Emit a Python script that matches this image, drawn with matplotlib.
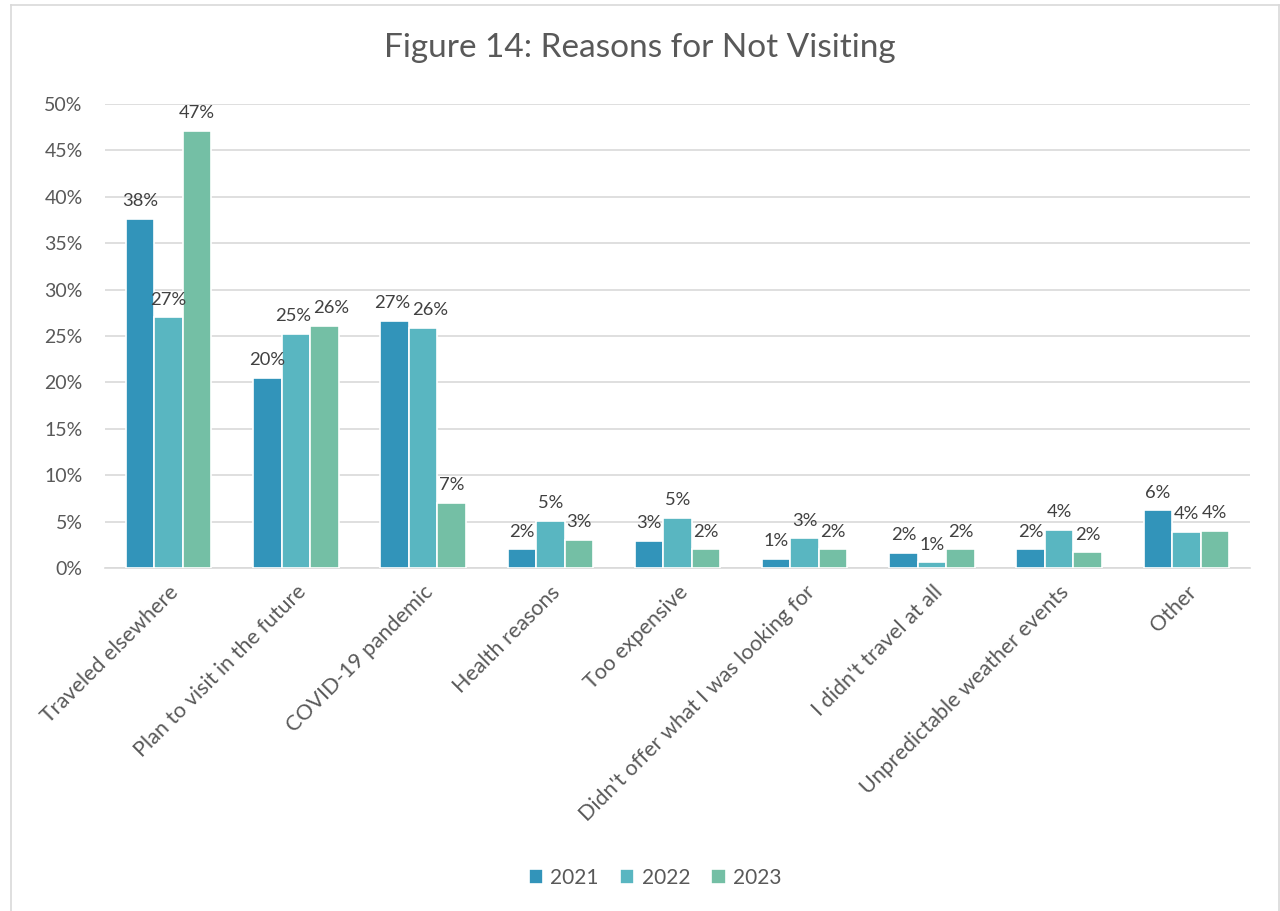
import numpy as np
import matplotlib.pyplot as plt
from matplotlib.lines import Line2D

plt.rcParams['font.family'] = ['Lato', 'DejaVu Sans']

categories = ["Traveled elsewhere", "Plan to visit in the future", "COVID-19 pandemic",
              "Health reasons", "Too expensive", "Didn't offer what I was looking for",
              "I didn't travel at all", "Unpredictable weather events", "Other"]
years = ["2021", "2022", "2023"]
v2021 = [37.6, 20.5, 26.6, 2.0, 2.9, 1.0, 1.6, 2.0, 6.2]
v2022 = [27.0, 25.2, 25.9, 5.1, 5.4, 3.2, 0.6, 4.1, 3.9]
v2023 = [47.1, 26.1, 7.0, 3.0, 2.0, 2.0, 2.0, 1.7, 4.0]
colors = ["#3294BA", "#59B6C1", "#74BFA5"]

# small sideways nudges (points) for labels that crowd each other
nudge = {(2, 0): -2, (2, 1): 5, (1, 1): -2, (1, 2): 5}

txt = "#595959"
fig = plt.figure(figsize=(12.8, 9.11), dpi=100)
ax = fig.add_axes([105/1280, 1 - 568/911, 1145/1280, 464/911])

x = np.arange(len(categories))
w = 0.224
for i, (vals, c, yr) in enumerate(zip([v2021, v2022, v2023], colors, years)):
    pos = x + (i - 1) * w
    ax.bar(pos, vals, width=w, color=c, edgecolor="white", linewidth=1.2,
           label=yr, zorder=3)
    for k, (xp, v) in enumerate(zip(pos, vals)):
        ax.annotate(f"{v:.0f}%", (xp, v), xytext=(nudge.get((k, i), 0), 7),
                    textcoords="offset points", ha="center", va="bottom",
                    fontsize=13.2, color="#404040", zorder=4)

ax.set_xlim(-0.5, len(categories) - 0.5)
ax.set_ylim(0, 50)
ax.set_yticks(np.arange(0, 51, 5))
ax.set_yticklabels([f"{t}%" for t in range(0, 51, 5)], fontsize=14, color=txt)
ax.set_xticks(x)
ax.set_xticklabels(categories, rotation=45, ha="right", rotation_mode="anchor",
                   fontsize=15.5, color=txt)
ax.tick_params(axis="y", length=0, pad=16)
ax.tick_params(axis="x", length=0, pad=10)
ax.grid(axis="y", color="#D9D9D9", linewidth=1.2, zorder=0)
for s in ["top", "right", "left"]:
    ax.spines[s].set_visible(False)
ax.spines["bottom"].set_color("#D9D9D9")
ax.spines["bottom"].set_linewidth(1.2)

fig.suptitle("Figure 14: Reasons for Not Visiting", y=1 - 48/911, va="center",
             fontsize=24, color=txt)

fig.legend(loc="center", bbox_to_anchor=(655/1280, 1 - 878/911), ncol=3,
           frameon=False, fontsize=15, labelcolor=txt, handlelength=0.7,
           handleheight=0.7, columnspacing=1.0, handletextpad=0.35)

# chart border
bc = "#D9D9D9"
fig.add_artist(Line2D([11/1280, 11/1280], [0, 1 - 5/911], color=bc, lw=1.2,
                      transform=fig.transFigure))
fig.add_artist(Line2D([11/1280, 1279/1280], [1 - 5/911, 1 - 5/911], color=bc, lw=1.2,
                      transform=fig.transFigure))
fig.add_artist(Line2D([1279/1280, 1279/1280], [0, 1 - 5/911], color=bc, lw=1.2,
                      transform=fig.transFigure))

fig.savefig("out.png", dpi=100)
